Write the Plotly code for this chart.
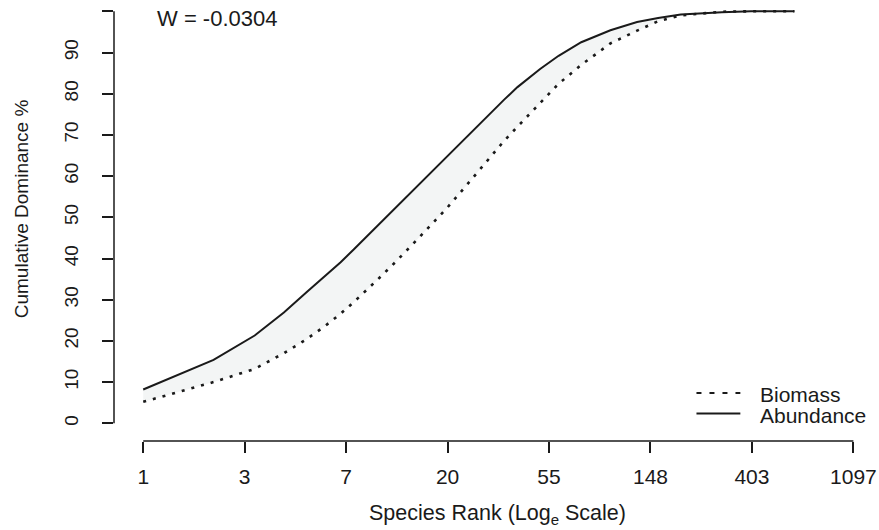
import plotly.graph_objects as go

# ---- data ----
ranks = [1, 2, 3, 4, 5, 6, 7, 8, 10, 12, 15, 20, 25, 30, 35, 40, 50, 60, 75, 100,
         130, 160, 200, 300, 400, 613]
abundance = [8.2, 15.4, 21.3, 26.9, 31.8, 35.7, 39.1, 42.3, 47.8, 52.3, 57.8, 64.7,
             70.2, 74.8, 78.5, 81.6, 86.0, 89.2, 92.5, 95.4,
             97.4, 98.4, 99.2, 99.8, 100.0, 100.0]
biomass = [5.2, 10.0, 13.2, 17.0, 20.4, 23.6, 26.6, 29.5, 34.7, 39.1, 44.8, 52.3,
           58.7, 64.0, 68.5, 72.0, 77.6, 82.4, 87.0, 92.2,
           95.3, 97.6, 99.0, 99.9, 100.0, 100.0]
xtick_vals = [1, 2.718281828, 7.389056099, 20.08553692, 54.59815003, 148.4131591,
              403.4287935, 1096.633158]
xtick_text = ["1", "3", "7", "20", "55", "148", "403", "1097"]
ytick_vals = [0, 10, 20, 30, 40, 50, 60, 70, 80, 90, 100]
ytick_text = ["0", "10", "20", "30", "40", "50", "60", "70", "80", "90", ""]
w_stat = "-0.0304"

W, H = 879, 530
L, R, T, B = 114, 4, 2, 89
PW, PH = W - L - R, H - T - B


def px(xp):
    return (xp - L) / PW


def py(yp):
    return (H - B - yp) / PH


FONT = "Liberation Sans, Arial, sans-serif"
INK = "#1a1a1a"

fig = go.Figure()
# shaded band between curves
fig.add_trace(go.Scatter(x=ranks, y=biomass, mode="lines", line=dict(width=0),
                         showlegend=False, hoverinfo="skip"))
fig.add_trace(go.Scatter(x=ranks, y=abundance, mode="lines", line=dict(width=0),
                         fill="tonexty", fillcolor="#f3f5f5",
                         showlegend=False, hoverinfo="skip"))
# curves
fig.add_trace(go.Scatter(x=ranks, y=biomass, mode="lines", name="Biomass",
                         line=dict(color=INK, width=2.6, dash="3px,7px"),
                         showlegend=False))
fig.add_trace(go.Scatter(x=ranks, y=abundance, mode="lines", name="Abundance",
                         line=dict(color=INK, width=2), showlegend=False))

shapes = [
    # detached R-style axis lines
    dict(type="line", xref="paper", yref="y", x0=0, x1=0, y0=ytick_vals[0],
         y1=ytick_vals[-1], line=dict(color=INK, width=1.5)),
    dict(type="line", xref="x", yref="paper", x0=xtick_vals[0], x1=xtick_vals[-1],
         y0=0, y1=0, line=dict(color=INK, width=1.5)),
    # legend samples
    dict(type="line", xref="paper", yref="paper", x0=px(698), x1=px(742),
         y0=py(393), y1=py(393), line=dict(color=INK, width=2, dash="5px,8px")),
    dict(type="line", xref="paper", yref="paper", x0=px(698), x1=px(742),
         y0=py(413.5), y1=py(413.5), line=dict(color=INK, width=2)),
]

annotations = [
    dict(text="W = " + w_stat, xref="paper", yref="paper", x=px(155), y=py(18.5),
         xanchor="left", yanchor="middle", showarrow=False,
         font=dict(family=FONT, size=22, color=INK)),
    dict(text="Biomass", xref="paper", yref="paper", x=px(760), y=py(394),
         xanchor="left", yanchor="middle", showarrow=False,
         font=dict(family=FONT, size=21, color=INK)),
    dict(text="Abundance", xref="paper", yref="paper", x=px(760), y=py(415),
         xanchor="left", yanchor="middle", showarrow=False,
         font=dict(family=FONT, size=21, color=INK)),
    dict(text="Species Rank (Log<sub>e</sub> Scale)", xref="paper", yref="paper",
         x=px(499), y=py(514), xanchor="center", yanchor="middle", showarrow=False,
         font=dict(family=FONT, size=21.5, color=INK)),
    dict(text="Cumulative Dominance %", xref="paper", yref="paper",
         x=px(21), y=py(209), xanchor="center", yanchor="middle", showarrow=False,
         textangle=-90, font=dict(family=FONT, size=19, color=INK)),
]

fig.update_layout(
    width=W, height=H,
    margin=dict(l=L, r=R, t=T, b=B, pad=0),
    plot_bgcolor="white", paper_bgcolor="white",
    showlegend=False,
    shapes=shapes, annotations=annotations,
    xaxis=dict(type="log", range=[-0.1251, 3.124], showgrid=False, zeroline=False,
               showline=False, tickmode="array", tickvals=xtick_vals,
               ticktext=xtick_text, ticks="outside", ticklen=11, tickwidth=1.5,
               tickcolor=INK, tickfont=dict(family=FONT, size=21, color=INK),
               ticklabelstandoff=6),
    yaxis=dict(range=[-4.3, 102.26], showgrid=False, zeroline=False, showline=False,
               tickmode="array", tickvals=ytick_vals, ticktext=ytick_text,
               ticks="outside", ticklen=11, tickwidth=1.5, tickcolor=INK,
               tickangle=-90, tickfont=dict(family=FONT, size=19, color=INK),
               ticklabelstandoff=16),
)

fig.write_html("out.html",
               config={"displayModeBar": False},
               post_script="document.body.style.margin='0px';"
                           "document.body.style.overflow='hidden';")
